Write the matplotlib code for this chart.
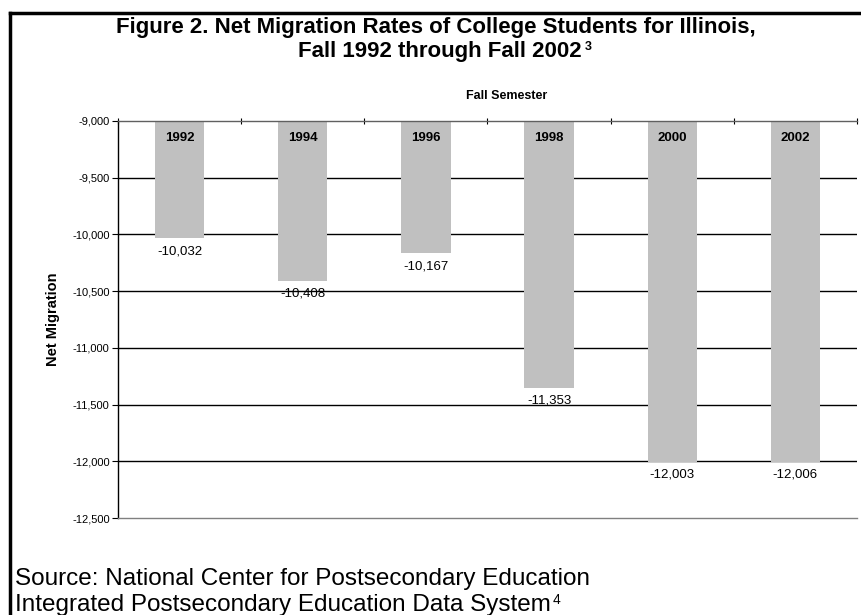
import numpy as np
import matplotlib.pyplot as plt
from matplotlib.lines import Line2D
from matplotlib.ticker import FuncFormatter

plt.rcParams['font.family'] = ['Liberation Sans', 'DejaVu Sans']

years = ['1992', '1994', '1996', '1998', '2000', '2002']
net_migration = [-10032, -10408, -10167, -11353, -12003, -12006]
y_top = -9000
y_bottom = -12500

fig = plt.figure(figsize=(8.62, 6.15), dpi=100)
ax = fig.add_axes([118/862, 1 - 518/615, 739/862, 397/615])

x = np.arange(len(years))
heights = [v - y_top for v in net_migration]
ax.bar(x, heights, bottom=y_top, width=0.4, color='#C0C0C0', zorder=2)

ax.set_xlim(-0.5, len(years) - 0.5)
ax.set_ylim(y_bottom, y_top)
ax.set_yticks(np.arange(y_bottom, y_top + 1, 500))
ax.yaxis.set_major_formatter(FuncFormatter(lambda v, p: f'{int(v):,}'))
ax.tick_params(axis='y', labelsize=8, length=4, width=0.8, pad=2)

# category boundary ticks on the top axis line
ax.set_xticks(np.arange(-0.5, len(years), 1.0))
ax.tick_params(axis='x', bottom=False, labelbottom=False, top=True, labeltop=False,
               direction='inout', length=5, width=0.8)

for g in np.arange(-12000, y_top, 500):
    ax.axhline(g, color='black', lw=1, zorder=1)

ax.spines['right'].set_visible(False)
ax.spines['top'].set_color('#606060')
ax.spines['bottom'].set_color('#808080')
ax.spines['left'].set_color('black')
for s in ax.spines.values():
    s.set_linewidth(1)

for xi, yr, v in zip(x, years, net_migration):
    ax.annotate(yr, (xi, y_top), xytext=(0, -12), textcoords='offset points',
                ha='center', va='center', fontsize=9.5, fontweight='bold')
    ax.annotate(f'{v:,}', (xi, v), xytext=(0, -5), textcoords='offset points',
                ha='center', va='top', fontsize=9.5)

ax.set_ylabel('Net Migration', fontsize=10.5, fontweight='bold', labelpad=9)
fig.text(507/862, 1 - 96/615, 'Fall Semester', ha='center', va='center',
         fontsize=9, fontweight='bold')

fig.text(436/862, 1 - 28/615, 'Figure 2. Net Migration Rates of College Students for Illinois,',
         ha='center', va='center', fontsize=16, fontweight='bold')
t2 = fig.text(440/862, 1 - 51/615, 'Fall 1992 through Fall 2002',
              ha='center', va='center', fontsize=16, fontweight='bold')
ax.annotate('3', xy=(1, 1), xycoords=t2, xytext=(2, 0), textcoords='offset points',
            ha='left', va='top', fontsize=9, fontweight='bold', annotation_clip=False)

fig.text(15/862, 1 - 579/615, 'Source: National Center for Postsecondary Education',
         ha='left', va='center', fontsize=17.5)
s2 = fig.text(15/862, 1 - 605/615, 'Integrated Postsecondary Education Data System',
              ha='left', va='center', fontsize=17.5)
ax.annotate('4', xy=(1, 1), xycoords=s2, xytext=(1, 1), textcoords='offset points',
            ha='left', va='top', fontsize=10, annotation_clip=False)

# outer frame (left and top edges)
fig.add_artist(Line2D([10/862, 10/862], [0, 1 - 13/615], color='black', lw=2.5,
                      transform=fig.transFigure))
fig.add_artist(Line2D([10/862, 1], [1 - 13/615, 1 - 13/615], color='black', lw=2.5,
                      transform=fig.transFigure))

fig.savefig('out.png', dpi=100)
